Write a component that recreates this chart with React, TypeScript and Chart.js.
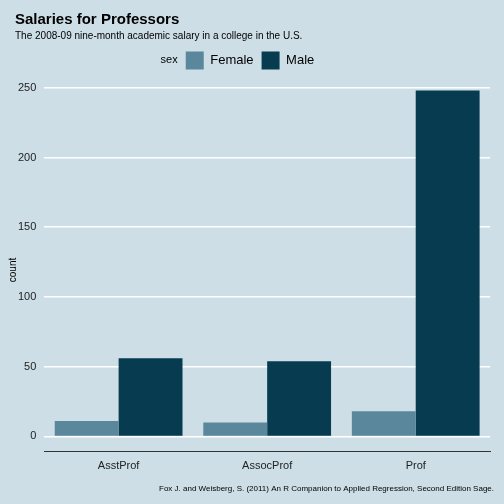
import React, { useEffect, useRef } from "react";
import Chart from "chart.js/auto";

const ranks = ["AsstProf", "AssocProf", "Prof"];
const femaleCounts = [11, 10, 18];
const maleCounts = [56, 54, 248];
const yTicks = [0, 50, 100, 150, 200, 250];

const BG = "#cddee6";
const FONT = "Liberation Sans, Arial, sans-serif";

const App = () => {
  const chartRef = useRef<any>(null);

  useEffect(() => {
    document.body.style.margin = "0";
    const ctx = chartRef.current.getContext("2d");
    const extras = {
      id: "extras",
      beforeDraw(chart: any) {
        const c = chart.ctx;
        c.save();
        c.fillStyle = BG;
        c.fillRect(0, 0, chart.width, chart.height);
        c.restore();
      },
      afterDraw(chart: any) {
        const c = chart.ctx;
        c.save();
        c.fillStyle = "#000";
        c.font = "bold 15px " + FONT;
        c.textBaseline = "alphabetic";
        c.fillText("Salaries for Professors", 15, 24);
        c.font = "10px " + FONT;
        c.fillText("The 2008-09 nine-month academic salary in a college in the U.S.", 15, 39);
        c.font = "11px " + FONT;
        const boxes = chart.legend.legendHitBoxes;
        if (boxes && boxes.length) {
          c.textAlign = "right";
          c.textBaseline = "middle";
          c.fillText("sex", boxes[0].left - 8, boxes[0].top + boxes[0].height / 2);
        }
        c.textBaseline = "alphabetic";
        c.font = "8px " + FONT;
        c.textAlign = "right";
        c.fillText(
          "Fox J. and Weisberg, S. (2011) An R Companion to Applied Regression, Second Edition Sage.",
          494,
          491
        );
        c.translate(16, 270);
        c.rotate(-Math.PI / 2);
        c.textAlign = "center";
        c.font = "10px " + FONT;
        c.fillText("count", 0, 0);
        c.restore();
      },
    };
    const chart = new Chart(ctx, {
      type: "bar",
      data: {
        labels: ranks,
        datasets: [
          { label: "Female", data: femaleCounts, backgroundColor: "#5a879b" },
          { label: "Male", data: maleCounts, backgroundColor: "#073b4f" },
        ],
      },
      options: {
        animation: false,
        responsive: false,
        layout: { padding: { left: 10, right: 14, top: 0, bottom: 28 } },
        datasets: { bar: { categoryPercentage: 0.86, barPercentage: 1 } },
        plugins: {
          title: { display: true, text: "", padding: { top: 20, bottom: 9 } },
          legend: {
            position: "top",
            labels: {
              boxWidth: 18,
              boxHeight: 18,
              color: "#000",
              font: { family: FONT, size: 13 },
              padding: 8,
            },
          },
          tooltip: { enabled: false },
        },
        scales: {
          x: {
            grid: { display: false, drawTicks: true, tickLength: 5 },
            border: { display: true, color: "#333", width: 1 },
            ticks: { color: "#222", font: { family: FONT, size: 11 } },
          },
          y: {
            min: -11,
            max: 256,
            afterBuildTicks: (axis: any) => {
              axis.ticks = yTicks.map((v) => ({ value: v }));
            },
            grid: { color: "#ffffff", lineWidth: 1.5, drawTicks: false },
            border: { display: false },
            ticks: { color: "#222", padding: 8, font: { family: FONT, size: 11 } },
          },
        },
      },
      plugins: [extras],
    });
    return () => {
      chart.destroy();
    };
  }, []);

  return (
    <div>
      <canvas ref={chartRef} width="504" height="504"></canvas>
    </div>
  );
};

export default App;
